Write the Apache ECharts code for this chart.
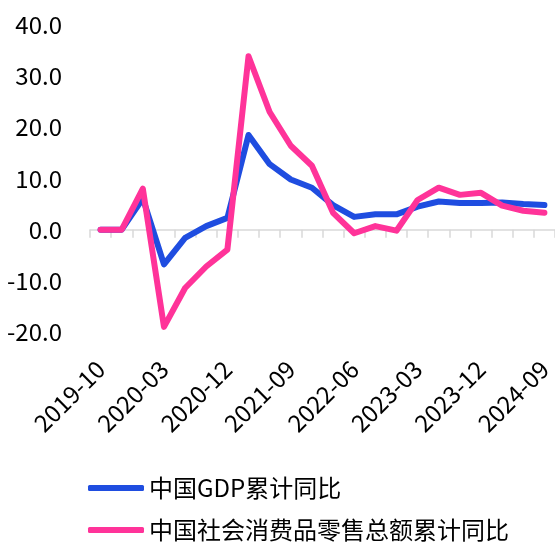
<!DOCTYPE html>
<html>
<head>
<meta charset="utf-8">
<script src="https://cdn.jsdelivr.net/npm/echarts@6/dist/echarts.min.js"></script>
<style>
  html, body { margin: 0; padding: 0; background: #fff; }
  #main { width: 555px; height: 542px; }
</style>
</head>
<body>
<div id="main"></div>
<script>
// 数据
const categories = ['2019-10', '2019-11', '2019-12', '2020-03', '2020-06', '2020-09', '2020-12',
  '2021-03', '2021-06', '2021-09', '2021-12', '2022-03', '2022-06', '2022-09', '2022-12',
  '2023-03', '2023-06', '2023-09', '2023-12', '2024-03', '2024-06', '2024-09'];
const gdpValues = [0, 0, 6.1, -6.8, -1.6, 0.7, 2.3, 18.5, 12.8, 9.8, 8.2, 4.8, 2.5, 3.0, 3.0,
  4.5, 5.5, 5.2, 5.2, 5.3, 5.0, 4.8];
const retailValues = [0, 0, 8.0, -19.0, -11.4, -7.2, -3.9, 33.9, 23.0, 16.4, 12.5, 3.3, -0.7, 0.7, -0.2,
  5.8, 8.2, 6.8, 7.2, 4.7, 3.7, 3.3];
const seriesNames = ['中国GDP累计同比', '中国社会消费品零售总额累计同比'];

const font = 'Noto Sans CJK SC';
const fs = 24;
const myChart = echarts.init(document.getElementById('main'));
const option = {
  animation: false,
  textStyle: { fontFamily: font },
  grid: { left: 90, right: -1, top: 25, bottom: 210 },
  legend: {
    orient: 'vertical',
    left: 83,
    top: 471,
    height: 120,
    itemWidth: 56,
    itemHeight: 6,
    itemGap: 18,
    icon: 'roundRect',
    textStyle: { fontSize: fs, color: '#000', fontFamily: font },
    data: seriesNames
  },
  xAxis: [
    {
      type: 'category',
      data: categories,
      boundaryGap: true,
      axisLine: { onZero: true, lineStyle: { color: '#d9d9d9', width: 1.5 } },
      axisTick: { show: true, interval: 0, length: 8, lineStyle: { color: '#d9d9d9', width: 1.5 } },
      axisLabel: { show: false },
      splitLine: { show: false }
    },
    {
      type: 'category',
      data: categories,
      position: 'bottom',
      boundaryGap: true,
      axisLine: { show: false, onZero: false },
      axisTick: { show: false },
      axisLabel: { interval: 2, rotate: 45, fontSize: fs, color: '#000', margin: 33, fontFamily: font },
      splitLine: { show: false }
    }
  ],
  yAxis: {
    type: 'value',
    min: -20,
    max: 40,
    interval: 10,
    axisLine: { show: false },
    axisTick: { show: false },
    splitLine: { show: false },
    axisLabel: {
      fontSize: fs,
      color: '#000',
      margin: 28,
      fontFamily: font,
      formatter: v => v.toFixed(1)
    }
  },
  series: [
    {
      name: seriesNames[0],
      type: 'line',
      data: gdpValues,
      symbol: 'none',
      itemStyle: { color: '#1f4de0' },
      lineStyle: { width: 6, color: '#1f4de0', cap: 'round', join: 'round' }
    },
    {
      name: seriesNames[1],
      type: 'line',
      data: retailValues,
      symbol: 'none',
      itemStyle: { color: '#ff3399' },
      lineStyle: { width: 6, color: '#ff3399', cap: 'round', join: 'round' }
    }
  ]
};
myChart.setOption(option);
</script>
</body>
</html>
